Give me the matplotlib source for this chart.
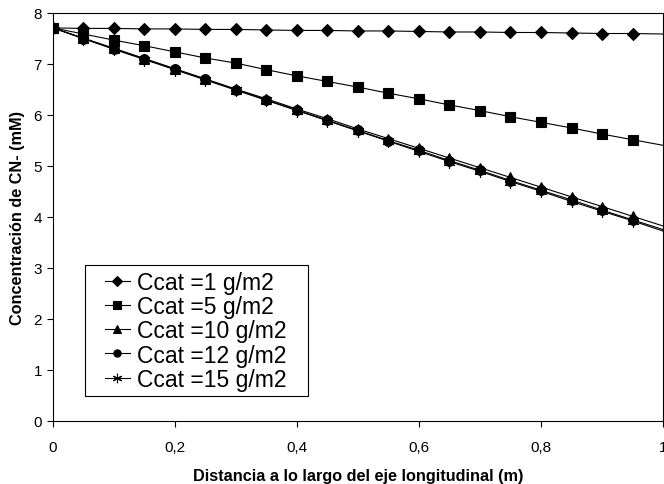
import matplotlib
matplotlib.use("Agg")
import matplotlib.pyplot as plt
from matplotlib.patches import Rectangle

plt.rcParams['font.family'] = ['Liberation Sans', 'DejaVu Sans']

# distancia (m): marcadores cada 0.05, la linea llega hasta 1
x = [0.00, 0.05, 0.10, 0.15, 0.20, 0.25, 0.30, 0.35, 0.40, 0.45, 0.50,
     0.55, 0.60, 0.65, 0.70, 0.75, 0.80, 0.85, 0.90, 0.95, 1.00]

c1 = [7.70, 7.69, 7.69, 7.68, 7.68, 7.67, 7.67, 7.66, 7.65, 7.65, 7.64,
      7.64, 7.63, 7.62, 7.62, 7.61, 7.61, 7.60, 7.59, 7.59, 7.58]
c5 = [7.70, 7.58, 7.46, 7.35, 7.23, 7.11, 7.01, 6.88, 6.76, 6.65, 6.54,
      6.42, 6.31, 6.19, 6.08, 5.96, 5.85, 5.74, 5.62, 5.51, 5.40]
c10 = [7.70, 7.50, 7.30, 7.10, 6.90, 6.70, 6.50, 6.31, 6.11, 5.92, 5.72,
       5.53, 5.34, 5.15, 4.96, 4.77, 4.58, 4.39, 4.20, 4.01, 3.82]
c12 = [7.70, 7.49, 7.29, 7.09, 6.89, 6.69, 6.49, 6.29, 6.09, 5.89, 5.69,
       5.49, 5.30, 5.10, 4.91, 4.71, 4.52, 4.33, 4.13, 3.94, 3.75]
c15 = [7.70, 7.49, 7.28, 7.08, 6.88, 6.68, 6.48, 6.28, 6.08, 5.88, 5.68,
       5.48, 5.28, 5.08, 4.89, 4.69, 4.50, 4.30, 4.11, 3.92, 3.72]

labels = ["Ccat =1 g/m2", "Ccat =5 g/m2", "Ccat =10 g/m2",
          "Ccat =12 g/m2", "Ccat =15 g/m2"]
series = [c1, c5, c10, c12, c15]
markers = [("D", 6.5), ("s", 7.5), ("^", 7.5), ("o", 7), ((6, 2, 0), 9)]

fig = plt.figure(figsize=(6.64, 4.85), dpi=100)
ax = fig.add_axes([0.0798, 0.130, 0.9187, 0.842])

for y, lab, (m, ms) in zip(series, labels, markers):
    ax.plot(x, y, color="black", lw=0.8, marker=m, ms=ms,
            markevery=list(range(len(x) - 1)), mew=0.8,
            mfc="black", mec="black", label=lab)

ax.set_xlim(0, 1)
ax.set_ylim(0, 8)
ax.set_xticks([0, 0.2, 0.4, 0.6, 0.8, 1])
ax.set_xticklabels(["0", "0,2", "0,4", "0,6", "0,8", "1"])
ax.set_yticks(range(0, 9))
ax.tick_params(direction="out", length=4, width=0.8, labelsize=11)
ax.tick_params(axis="x", pad=10)
ax.tick_params(axis="y", pad=4)
for s in ax.spines.values():
    s.set_linewidth(0.8)

ax.set_xlabel("Distancia a lo largo del eje longitudinal (m)",
              fontsize=11.7, fontweight="bold", labelpad=10)
ax.set_ylabel("Concentración de CN- (mM)", fontsize=11.7, fontweight="bold",
              labelpad=6)

# caja de la leyenda (mas margen lateral que vertical, como en Excel)
ax.add_patch(Rectangle((0.0525, 0.061), 0.3655, 0.321, transform=ax.transAxes,
                       fill=True, facecolor="white", edgecolor="black",
                       lw=0.8, zorder=4))
leg = ax.legend(loc="upper left", bbox_to_anchor=(0.085, 0.367), fontsize=16.5,
                frameon=False, handlelength=1.1, handletextpad=0.3,
                labelspacing=0.05, borderpad=0, markerscale=0.75,
                borderaxespad=0)
leg.set_zorder(5)

fig.savefig("out.png", dpi=100)
